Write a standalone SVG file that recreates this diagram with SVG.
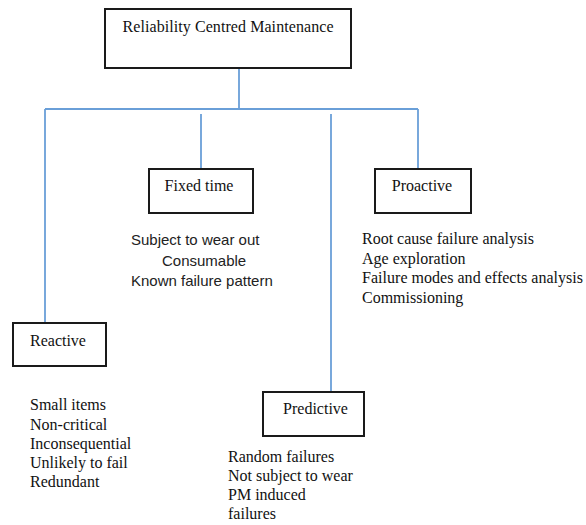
<svg xmlns="http://www.w3.org/2000/svg" width="586" height="525" viewBox="0 0 586 525">
<style>
.box{fill:#fff;stroke:#1a1a1a;stroke-width:2}
.lbl{font-family:"Liberation Serif","Times New Roman",serif;font-size:16px;fill:#111}
.sans{font-family:"Liberation Sans",Arial,sans-serif;font-size:15px;fill:#222}
.conn{stroke:#6a9fd8;stroke-width:1.8;fill:none}
</style>
<rect width="586" height="525" fill="#fff"/>
<g id="connectors">
<path class="conn" d="M239,68 V109"/>
<path class="conn" d="M45,109 H418"/>
<path class="conn" d="M45,109 V323"/>
<path class="conn" d="M201,114 V169"/>
<path class="conn" d="M331,114 V392"/>
<path class="conn" d="M418,109 V169"/>
</g>
<g id="rcm">
<rect class="box" x="105" y="9" width="246" height="59"/>
<text class="lbl" x="228" y="32" text-anchor="middle" textLength="211">Reliability Centred Maintenance</text>
</g>
<g id="fixed-time">
<rect class="box" x="149" y="169" width="104" height="44"/>
<text class="lbl" x="199" y="191" text-anchor="middle">Fixed time</text>
<text class="sans" x="131" y="245">Subject to wear out</text>
<text class="sans" x="162" y="265.5">Consumable</text>
<text class="sans" x="131" y="286">Known failure pattern</text>
</g>
<g id="proactive">
<rect class="box" x="375" y="169" width="96" height="44"/>
<text class="lbl" x="422" y="191" text-anchor="middle">Proactive</text>
<text class="lbl" x="362" y="244">Root cause failure analysis</text>
<text class="lbl" x="362" y="263.5">Age exploration</text>
<text class="lbl" x="362" y="283" textLength="221">Failure modes and effects analysis</text>
<text class="lbl" x="362" y="302.5">Commissioning</text>
</g>
<g id="reactive">
<rect class="box" x="13" y="323" width="93" height="43"/>
<text class="lbl" x="30" y="346">Reactive</text>
<text class="lbl" x="30" y="410">Small items</text>
<text class="lbl" x="30" y="429.5">Non-critical</text>
<text class="lbl" x="30" y="449">Inconsequential</text>
<text class="lbl" x="30" y="468">Unlikely to fail</text>
<text class="lbl" x="30" y="487">Redundant</text>
</g>
<g id="predictive">
<rect class="box" x="263" y="392" width="101" height="44"/>
<text class="lbl" x="315.5" y="414" text-anchor="middle">Predictive</text>
<text class="lbl" x="228" y="462">Random failures</text>
<text class="lbl" x="228" y="481">Not subject to wear</text>
<text class="lbl" x="228" y="500">PM induced</text>
<text class="lbl" x="228" y="519">failures</text>
</g>
</svg>
